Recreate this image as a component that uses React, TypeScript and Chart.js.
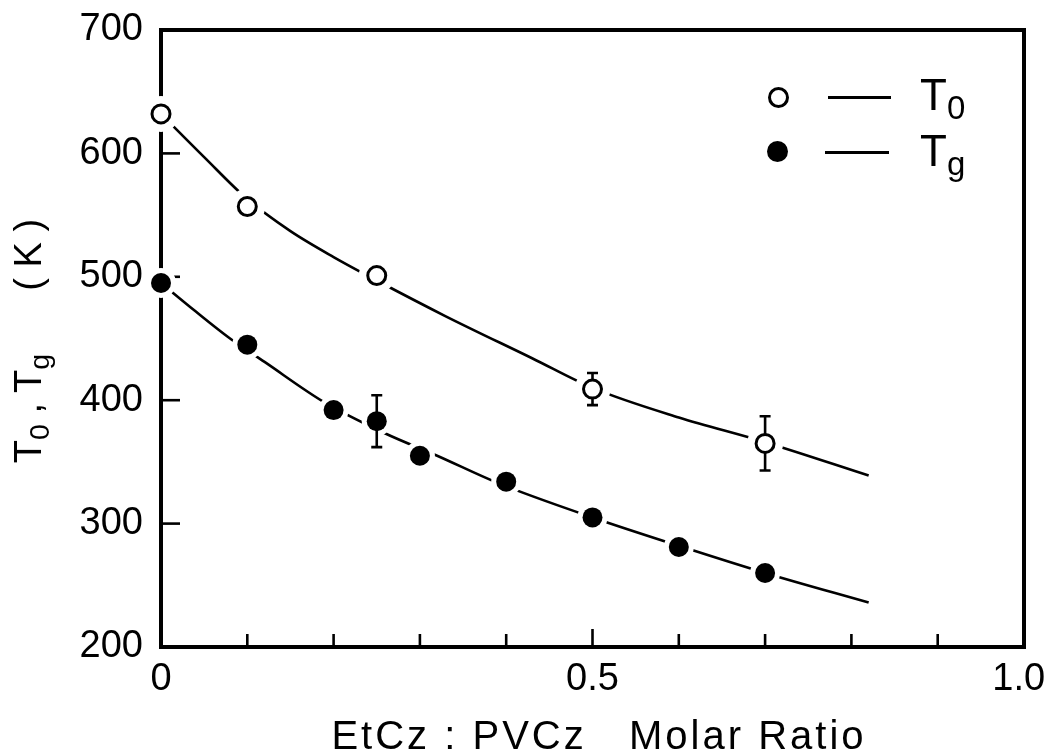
import React, { useEffect, useRef } from 'react';
import { Chart, registerables } from 'chart.js';

Chart.register(...registerables);

// Measured points (open circles: T0, filled circles: Tg)
const t0X = [0, 0.1, 0.25, 0.5, 0.7];
const t0Y = [632, 557, 501, 409, 365];
const t0Err = [0, 0, 0, 13, 22];

const tgX = [0, 0.1, 0.2, 0.25, 0.3, 0.4, 0.5, 0.6, 0.7];
const tgY = [495, 445, 392, 383, 355, 334, 305, 281, 260];
const tgErr = [0, 0, 0, 21, 0, 0, 0, 0, 0];

// Fitted curves
const t0CurveX = [0, 0.05, 0.1, 0.15, 0.2, 0.25, 0.33, 0.43, 0.5, 0.6, 0.7, 0.82];
const t0CurveY = [632, 597, 563, 537, 516, 497, 468, 434, 410, 386, 366, 339];
const tgCurveX = [0, 0.04, 0.08, 0.12, 0.19, 0.26, 0.32, 0.39, 0.5, 0.6, 0.7, 0.82];
const tgCurveY = [495, 472, 450, 431, 398, 373, 355, 333, 305, 282, 260, 236];

// Axis settings
const xMin = 0;
const xMax = 1;
const xStep = 0.1;
const xLabelled = [0, 0.5, 1];
const xTickText = ['0', '0.5', '1.0 '];
const yMin = 200;
const yMax = 700;
const yStep = 100;

const FONT = '"Liberation Sans", Arial, sans-serif';

const pts = (xs: number[], ys: number[]) => xs.map((x, i) => ({ x, y: ys[i] }));

export default function App() {
  const ref = useRef<HTMLCanvasElement>(null);

  useEffect(() => {
    const canvas = ref.current;
    if (!canvas) return;

    const framePlugin = {
      id: 'frameTicks',
      beforeDatasetsDraw(chart: any) {
        const { ctx, chartArea: a, scales } = chart;
        const xs = scales.x;
        const ys = scales.y;
        ctx.save();
        ctx.strokeStyle = '#000';
        ctx.lineCap = 'butt';
        ctx.lineWidth = 2.6;
        xs.ticks.forEach((t: any) => {
          const v = t.value;
          if (v <= xMin + 1e-6 || v >= xMax - 1e-6) return;
          const px = xs.getPixelForValue(v);
          const major = xLabelled.some((m) => Math.abs(m - v) < 1e-6);
          ctx.beginPath();
          ctx.moveTo(px, a.bottom);
          ctx.lineTo(px, a.bottom - (major ? 18 : 13));
          ctx.stroke();
        });
        ys.ticks.forEach((t: any) => {
          const v = t.value;
          if (v <= yMin + 1e-6 || v >= yMax - 1e-6) return;
          const py = ys.getPixelForValue(v);
          ctx.beginPath();
          ctx.moveTo(a.left, py);
          ctx.lineTo(a.left + 19, py);
          ctx.stroke();
        });
        ctx.lineWidth = 4;
        ctx.lineJoin = 'miter';
        ctx.strokeRect(a.left, a.top, a.right - a.left, a.bottom - a.top);
        ctx.restore();
      },
      afterDatasetDraw(chart: any, args: any) {
        const ds = chart.data.datasets[args.index];
        if (ds.label !== 'haloTg') return;
        const { ctx, scales } = chart;
        const xs = scales.x;
        const ys = scales.y;
        ctx.save();
        ctx.strokeStyle = '#000';
        ctx.lineWidth = 2.6;
        const draw = (xv: number[], yv: number[], ev: number[]) => {
          xv.forEach((x, i) => {
            const e = ev[i];
            if (!e) return;
            const px = xs.getPixelForValue(x);
            const top = ys.getPixelForValue(yv[i] + e);
            const bot = ys.getPixelForValue(yv[i] - e);
            ctx.beginPath();
            ctx.moveTo(px, top);
            ctx.lineTo(px, bot);
            ctx.moveTo(px - 5.5, top);
            ctx.lineTo(px + 5.5, top);
            ctx.moveTo(px - 5.5, bot);
            ctx.lineTo(px + 5.5, bot);
            ctx.stroke();
          });
        };
        draw(t0X, t0Y, t0Err);
        draw(tgX, tgY, tgErr);
        ctx.restore();
      },
    };

    const chart = new Chart(canvas, {
      type: 'scatter',
      data: {
        datasets: [
          {
            label: 'T0 curve',
            data: pts(t0CurveX, t0CurveY),
            showLine: true,
            borderColor: '#000',
            borderWidth: 2.6,
            pointRadius: 0,
            cubicInterpolationMode: 'monotone',
            order: 5,
          },
          {
            label: 'Tg curve',
            data: pts(tgCurveX, tgCurveY),
            showLine: true,
            borderColor: '#000',
            borderWidth: 2.6,
            pointRadius: 0,
            cubicInterpolationMode: 'monotone',
            order: 5,
          },
          {
            label: 'haloT0',
            data: pts(t0X, t0Y),
            pointRadius: 18,
            pointBackgroundColor: '#fff',
            pointBorderWidth: 0,
            pointBorderColor: '#fff',
            clip: false,
            order: 4,
          },
          {
            label: 'haloTg',
            data: pts(tgX, tgY),
            pointRadius: 15,
            pointBackgroundColor: '#fff',
            pointBorderWidth: 0,
            pointBorderColor: '#fff',
            clip: false,
            order: 3,
          },
          {
            label: 'T0',
            data: pts(t0X, t0Y),
            pointRadius: 9,
            pointBackgroundColor: '#fff',
            pointBorderColor: '#000',
            pointBorderWidth: 3,
            clip: false,
            order: 1,
          },
          {
            label: 'Tg',
            data: pts(tgX, tgY),
            pointRadius: 10,
            pointBackgroundColor: '#000',
            pointBorderColor: '#000',
            pointBorderWidth: 0,
            clip: false,
            order: 1,
          },
        ],
      },
      options: {
        responsive: false,
        animation: false,
        layout: { padding: { left: 0, right: 22, top: 30, bottom: 0 } },
        plugins: {
          legend: { display: false },
          tooltip: { enabled: false },
        },
        scales: {
          x: {
            type: 'linear',
            min: xMin,
            max: xMax,
            grid: { display: false, drawTicks: false },
            border: { display: false },
            ticks: {
              stepSize: xStep,
              autoSkip: false,
              maxRotation: 0,
              padding: 10,
              color: '#000',
              font: { family: FONT, size: 38 },
              callback: (v: any) => {
                const i = xLabelled.findIndex((m) => Math.abs(m - Number(v)) < 1e-6);
                return i >= 0 ? xTickText[i] : '';
              },
            },
            afterFit: (s: any) => {
              s.height = 106;
              s.paddingLeft = 0;
              s.paddingRight = 0;
            },
          },
          y: {
            type: 'linear',
            min: yMin,
            max: yMax,
            grid: { display: false, drawTicks: false },
            border: { display: false },
            ticks: {
              stepSize: yStep,
              padding: 18,
              color: '#000',
              font: { family: FONT, size: 38 },
            },
            afterFit: (s: any) => {
              s.width = 161;
              s.paddingTop = 0;
              s.paddingBottom = 0;
            },
          },
        },
      },
      plugins: [framePlugin],
    });
    return () => chart.destroy();
  }, []);

  const sub: React.CSSProperties = { fontSize: '0.75em', position: 'relative', top: '0.28em' };

  return (
    <div style={{ position: 'fixed', left: 0, top: 0, width: 1046, height: 753, background: '#fff', fontFamily: FONT, color: '#000' }}>
      <canvas ref={ref} width={1046} height={753} style={{ display: 'block' }} />
      {/* y axis title */}
      <div
        style={{
          position: 'absolute',
          left: 28 - 160,
          top: 341 - 22,
          width: 320,
          height: 44,
          lineHeight: '44px',
          fontSize: 38,
          textAlign: 'center',
          whiteSpace: 'pre',
          transform: 'rotate(-90deg)',
          transformOrigin: '50% 50%',
        }}
      >
        T<span style={sub}>0</span>{' , T'}<span style={sub}>g</span>{'      ( K )'}
      </div>
      {/* x axis title */}
      <div
        style={{
          position: 'absolute',
          left: 249,
          width: 700,
          top: 711,
          height: 48,
          lineHeight: '48px',
          fontSize: 40,
          textAlign: 'center',
          whiteSpace: 'pre',
          letterSpacing: 3,
        }}
      >
        {'EtCz : PVCz   Molar Ratio'}
      </div>
      {/* legend */}
      <div style={{ position: 'absolute', left: 768, top: 87, width: 21, height: 21, boxSizing: 'border-box', border: '3px solid #000', borderRadius: '50%' }} />
      <div style={{ position: 'absolute', left: 828, top: 96, width: 63, height: 2.6, background: '#000' }} />
      <div style={{ position: 'absolute', left: 920, top: 70, fontSize: 44, lineHeight: '50px', whiteSpace: 'pre' }}>
        T<span style={sub}>0</span>
      </div>
      <div style={{ position: 'absolute', left: 767, top: 141, width: 21, height: 21, borderRadius: '50%', background: '#000' }} />
      <div style={{ position: 'absolute', left: 825, top: 151, width: 64, height: 2.6, background: '#000' }} />
      <div style={{ position: 'absolute', left: 920, top: 126, fontSize: 44, lineHeight: '50px', whiteSpace: 'pre' }}>
        T<span style={sub}>g</span>
      </div>
    </div>
  );
}
